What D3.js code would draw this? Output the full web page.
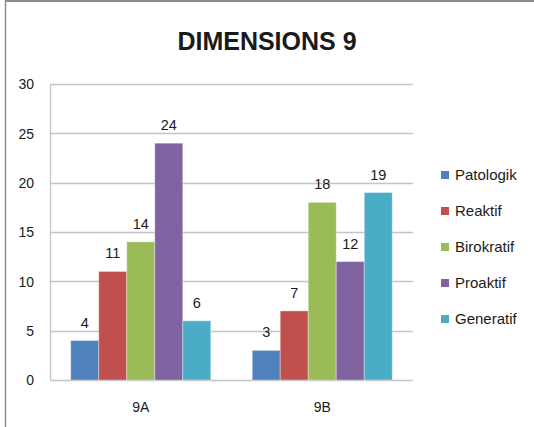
<!DOCTYPE html>
<html>
<head>
<meta charset="utf-8">
<script src="https://cdn.jsdelivr.net/npm/d3@7"></script>
<style>
  html, body { margin: 0; padding: 0; background: #fff; }
  svg { display: block; }
  text { font-family: "Liberation Sans", Arial, sans-serif; fill: #1a1a1a; }
</style>
</head>
<body>
<svg id="chart" width="534" height="427"></svg>
<script>
// Chart data
const categories = ["9A", "9B"];
const seriesNames = ["Patologik", "Reaktif", "Birokratif", "Proaktif", "Generatif"];
const values9A = [4, 11, 14, 24, 6];
const values9B = [3, 7, 18, 12, 19];
const yTicks = [0, 5, 10, 15, 20, 25, 30];
const colors = ["#4F81BD", "#C0504D", "#9BBB59", "#8064A2", "#4BACC6"];
const title = "DIMENSIONS 9";

const table = categories.map((c, i) => ({
  category: c,
  values: (i === 0 ? values9A : values9B).map((v, j) => ({ name: seriesNames[j], value: v }))
}));

const svg = d3.select("#chart");

// Frame
svg.append("line").attr("x1", 5).attr("x2", 534).attr("y1", 1).attr("y2", 1)
  .attr("stroke", "#8c8c8c").attr("stroke-width", 2);
svg.append("line").attr("x1", 5.5).attr("x2", 5.5).attr("y1", 0).attr("y2", 427)
  .attr("stroke", "#8c8c8c").attr("stroke-width", 1.5);

// Plot area
const plot = { left: 50, right: 413, top: 84, bottom: 380 };

const y = d3.scaleLinear().domain([0, 30]).range([plot.bottom, plot.top]);
const x0 = d3.scaleBand().domain(categories).range([plot.left, plot.right]).padding(0);
const x1 = d3.scaleBand().domain(seriesNames).range([0, x0.bandwidth()])
  .paddingInner(0).paddingOuter(0.74);
const color = d3.scaleOrdinal().domain(seriesNames).range(colors);

// Gridlines
svg.append("g")
  .selectAll("line")
  .data(yTicks)
  .join("line")
  .attr("x1", plot.left).attr("x2", plot.right)
  .attr("y1", d => Math.round(y(d)) + 0.5).attr("y2", d => Math.round(y(d)) + 0.5)
  .attr("stroke", "#c4c4c4").attr("stroke-width", 1.3);

// Y axis line
svg.append("line")
  .attr("x1", plot.left + 0.5).attr("x2", plot.left + 0.5)
  .attr("y1", plot.top).attr("y2", plot.bottom)
  .attr("stroke", "#c4c4c4").attr("stroke-width", 1.3);

// Y axis labels
const yAxis = d3.axisLeft(y).tickValues(yTicks).tickSize(0).tickPadding(0);
const gy = svg.append("g").attr("transform", `translate(34,0)`).call(yAxis);
gy.select(".domain").remove();
gy.selectAll("text")
  .attr("font-family", "'Liberation Sans', Arial, sans-serif")
  .attr("font-size", 14).attr("fill", "#1a1a1a").attr("dy", "0.35em");

// Bars
const groups = svg.append("g")
  .selectAll("g")
  .data(table)
  .join("g")
  .attr("transform", d => `translate(${x0(d.category)},0)`);

groups.selectAll("rect")
  .data(d => d.values)
  .join("rect")
  .attr("x", d => x1(d.name))
  .attr("y", d => y(d.value))
  .attr("width", x1.bandwidth())
  .attr("height", d => y(0) - y(d.value))
  .attr("fill", d => color(d.name))
  .attr("stroke", "rgba(255,255,255,0.35)")
  .attr("stroke-width", 1);

// Value labels
groups.selectAll("text.val")
  .data(d => d.values)
  .join("text")
  .attr("class", "val")
  .attr("x", d => x1(d.name) + x1.bandwidth() / 2)
  .attr("y", d => y(d.value) - 13)
  .attr("text-anchor", "middle")
  .attr("font-size", 14.5)
  .text(d => d.value);

// Category labels
const xAxis = d3.axisBottom(x0).tickSize(0).tickPadding(0);
const gx = svg.append("g").attr("transform", `translate(0,412)`).call(xAxis);
gx.select(".domain").remove();
gx.selectAll("text")
  .attr("font-family", "'Liberation Sans', Arial, sans-serif")
  .attr("font-size", 14).attr("fill", "#1a1a1a").attr("dy", 0);

// Title
svg.append("text")
  .attr("x", 267).attr("y", 50)
  .attr("text-anchor", "middle")
  .attr("font-size", 25).attr("font-weight", "bold")
  .attr("fill", "#111")
  .text(title);

// Legend
const legend = svg.append("g")
  .selectAll("g")
  .data(seriesNames)
  .join("g")
  .attr("transform", (d, i) => `translate(441,${175 + i * 36})`);
legend.append("rect")
  .attr("x", 0).attr("y", -4).attr("width", 8).attr("height", 8)
  .attr("fill", d => color(d));
legend.append("text")
  .attr("x", 14).attr("y", 0).attr("dy", "0.36em")
  .attr("font-size", 15)
  .text(d => d);
</script>
</body>
</html>
